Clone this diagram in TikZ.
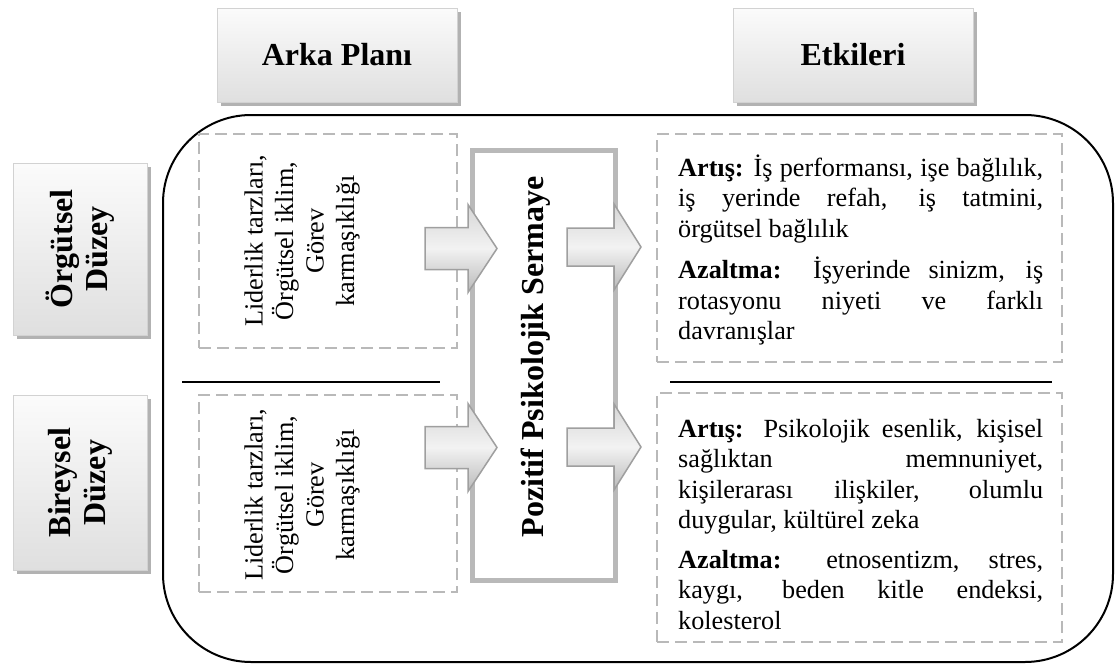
\documentclass[tikz,border=0pt]{standalone}
\usepackage{fontspec}
\setmainfont{Liberation Serif}
\usetikzlibrary{shadows}

\newcommand{\bodyfont}{\fontsize{26.2}{30.5}\selectfont}
\newcommand{\headfont}{\fontsize{32}{35}\selectfont\bfseries}

\begin{document}
\begin{tikzpicture}[x=1pt,y=-1pt,
  hdr/.style={draw=gray!35, line width=1pt, top color=gray!3, bottom color=gray!25,
    drop shadow={shadow xshift=4pt, shadow yshift=-4pt, fill=gray!60, opacity=1},
    font=\headfont, inner sep=0pt, align=center},
  frame/.style={draw=black, line width=2pt, rounded corners=88pt, inner sep=0pt},
  dbox/.style={draw=gray!55, line width=2pt, dash pattern=on 12pt off 6pt, inner sep=0pt},
  core/.style={draw=gray!55, line width=5pt, fill=white, inner sep=0pt},
  arrowbody/.style={draw=gray!75, line width=1.5pt, line join=miter,
    top color=gray!32, bottom color=gray!55, middle color=gray!10},
  rottext/.style={rotate=90, font=\bodyfont, align=center, inner sep=0pt},
  sep/.style={draw=black, line width=1.5pt},
  % block arrows pointing right, drawn about their centre
  leftarrow/.pic={\path[arrowbody] (-36,-21) -- (7,-21) -- (7,-44) -- (36,0) -- (7,44) -- (7,21) -- (-36,21) -- cycle;},
  rightarrow/.pic={\path[arrowbody] (-37,-19) -- (10,-19) -- (10,-43) -- (37,0) -- (10,43) -- (10,19) -- (-37,19) -- cycle;}
]
\useasboundingbox (0,0) rectangle (1117,664);

% outer frame
\node[frame, minimum width=950pt, minimum height=547pt] (frame) at (638,388.5) {};

% column headers
\node[hdr, minimum width=240pt, minimum height=94pt] (arka) at (337,55) {Arka Planı};
\node[hdr, minimum width=240pt, minimum height=94pt] (etki) at (853,55) {Etkileri};

% level labels
\node[hdr, rotate=90, minimum width=172pt, minimum height=134pt] (org) at (80,249) {Örgütsel\\Düzey};
\node[hdr, rotate=90, minimum width=175pt, minimum height=134pt] (bir) at (80,482.5) {Bireysel\\Düzey};

% antecedent boxes
\node[dbox, minimum width=258pt, minimum height=214pt] (lefttop) at (328,241) {};
\node[dbox, minimum width=258pt, minimum height=197pt] (leftbot) at (328,493.5) {};
\node[rottext] (lefttoptxt) at (302,241) {Liderlik tarzları,\\Örgütsel iklim,\\Görev\\karmaşıklığı};
\node[rottext] (leftbottxt) at (302,495) {Liderlik tarzları,\\Örgütsel iklim,\\Görev\\karmaşıklığı};

% outcome boxes
\node[dbox, minimum width=405pt, minimum height=228pt] (rtop) at (859.5,248) {};
\node[dbox, minimum width=405pt, minimum height=249pt] (rbot) at (859.5,517.5) {};

% central construct
\node[core, minimum width=143pt, minimum height=430pt] (core) at (544,365.5) {};
\node[rotate=90, anchor=base, font=\headfont, inner sep=0pt] (coretxt) at (543,357) {Pozitif Psikolojik Sermaye};

% block arrows into and out of the central construct
\pic at (461,248.5) {leftarrow};
\pic at (461,447.5) {leftarrow};
\pic at (604,247) {rightarrow};
\pic at (604,447) {rightarrow};

% separators
\coordinate (sl1) at (182,382);
\coordinate (sl2) at (440,382);
\coordinate (sr1) at (670,382);
\coordinate (sr2) at (1052,382);
\draw[sep] (sl1) -- (sl2);
\draw[sep] (sr1) -- (sr2);

% outcome texts
\node[anchor=base west, inner sep=0pt] (rtoptxt) at (678,176) {\parbox[t]{365pt}{\bodyfont
  \tolerance=10000\hbadness=10000\hyphenpenalty=10000\exhyphenpenalty=10000
  \textbf{Artış:} İş performansı, işe bağlılık,\linebreak
  iş yerinde refah, iş tatmini,\linebreak
  örgütsel bağlılık\par\vspace{11pt}
  \textbf{Azaltma:} İşyerinde sinizm, iş\linebreak
  rotasyonu niyeti ve farklı\linebreak
  davranışlar}};
\node[anchor=base west, inner sep=0pt] (rbottxt) at (678,437) {\parbox[t]{365pt}{\bodyfont
  \tolerance=10000\hbadness=10000\hyphenpenalty=10000\exhyphenpenalty=10000
  \textbf{Artış:} Psikolojik esenlik, kişisel\linebreak
  sağlıktan memnuniyet,\linebreak
  kişilerarası ilişkiler, olumlu\linebreak
  duygular, kültürel zeka\par\vspace{9pt}
  \textbf{Azaltma:} etnosentizm, stres,\linebreak
  kaygı, beden kitle endeksi,\linebreak
  kolesterol}};
\end{tikzpicture}
\end{document}
